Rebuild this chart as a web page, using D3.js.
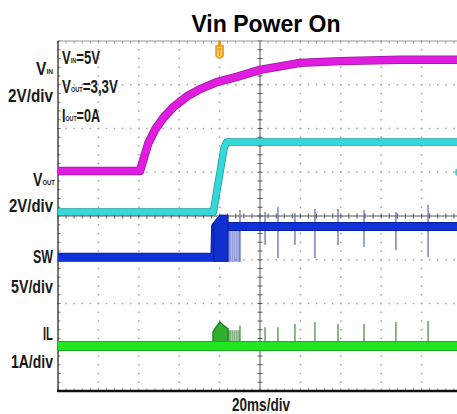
<!DOCTYPE html>
<html>
<head>
<meta charset="utf-8">
<script src="https://cdn.jsdelivr.net/npm/d3@7"></script>
<style>
body { margin: 0; background: #fff; }
</style>
</head>
<body>
<div id="graf"></div>
<script>
// -- Datos (tiempo en ms, 20ms/div; amplitud en divisiones)
vinT   = [-100, -59.4, -57.8, -55.3, -52.0, -47.9, -42.9, -36.3, -29.7, -21.4, -11.5, 0, 19.8, 39.6, 69.3, 100]
vinDiv = [1.03, 1.03, 1.28, 1.66, 1.97, 2.24, 2.49, 2.73, 2.90, 3.06, 3.18, 3.34, 3.50, 3.54, 3.57, 3.57]

voutT   = [-100, -23.1, -17.8, -16.5, 100]
voutDiv = [0.09, 0.09, 1.55, 1.69, 1.69]

swT   = [-100, -22.3, -22.0, 100]
swDiv = [-0.94, -0.94, -0.24, -0.24]
swRafagaT   = [-22.8, -22.8, -21.3, -19.8, -15.8, -15.8]
swRafagaDiv = [-1.05, -0.14, -0.05, 0.02, 0.02, -1.05]

ilT   = [-100, 100]
ilDiv = [-2.97, -2.97]
ilPicoT   = [-23.3, -23.3, -21.8, -19.8, -17.8, -15.8, -15.8]
ilPicoDiv = [-2.97, -2.65, -2.54, -2.42, -2.51, -2.58, -2.97]

// -- Peine de conmutacion justo despues del arranque
peineT = [-15.3, -14.4, -13.4, -12.4, -11.4, -10.4]
swPeineDiv = -1.05
ilPeineDiv = -2.61

// -- Picos aislados (pulsos de salto de ciclo)
picosT = [-9.9, 2.5, 8.9, 17.3, 27.2, 38.6, 51.5, 67.3, 83.2]
swPicoArriba = [0.14, 0.09, 0.21, 0.07, 0.16, 0.16, 0.14, 0.09, 0.25]
swPicoAbajo  = [-1.05, -0.66, -0.96, -0.66, -0.96, -0.66, -0.71, -0.78, -0.94]
ilPicoArriba = [-2.51, -2.54, -2.54, -2.47, -2.42, -2.47, -2.47, -2.42, -2.40]

triggerT = -20
marcaVoutDiv = 1.0

// -- Configuracion del canvas
ancho_total = 457
alto_total = 414

svg = d3.select('#graf').append('svg')
        .attr('width', ancho_total)
        .attr('height', alto_total)
        .style('display', 'block')

svg.append('rect').attr('width', ancho_total).attr('height', alto_total).attr('fill', '#fff')

// -- Escaladores (10 div horizontales, 8 verticales)
x = d3.scaleLinear().domain([-100, 100]).range([58, 462])
y = d3.scaleLinear().domain([-4, 4]).range([391, 41])

g = svg.append('g')

// -- Grid punteado
mayoresX = d3.range(-4, 5).filter(d => d != 0).map(d => d * 20)
mayoresY = d3.range(-3, 4).filter(d => d != 0)
menoresX = d3.range(-100, 100.01, 4)
menoresY = d3.range(-4, 4.01, 0.2)

mayoresX.forEach(mx => {
    g.selectAll(null).data(menoresY).enter().append('rect')
        .attr('x', x(mx) - 0.75).attr('y', d => y(d) - 0.75)
        .attr('width', 1.5).attr('height', 1.5)
        .attr('fill', '#a0a0a0')
})
mayoresY.forEach(my => {
    g.selectAll(null).data(menoresX).enter().append('rect')
        .attr('x', d => x(d) - 0.75).attr('y', y(my) - 0.75)
        .attr('width', 1.5).attr('height', 1.5)
        .attr('fill', '#a0a0a0')
})

// -- Cruz central con marcas
g.append('line').attr('x1', x(-100)).attr('x2', x(100)).attr('y1', y(0)).attr('y2', y(0))
    .attr('stroke', '#555').attr('stroke-width', 1)
g.append('line').attr('x1', x(0)).attr('x2', x(0)).attr('y1', y(4)).attr('y2', y(-4))
    .attr('stroke', '#555').attr('stroke-width', 1)
g.selectAll(null).data(menoresX).enter().append('line')
    .attr('x1', d => x(d)).attr('x2', d => x(d))
    .attr('y1', y(0) - 2.5).attr('y2', y(0) + 2.5)
    .attr('stroke', '#555')
g.selectAll(null).data(menoresY).enter().append('line')
    .attr('x1', x(0) - 2.5).attr('x2', x(0) + 2.5)
    .attr('y1', d => y(d)).attr('y2', d => y(d))
    .attr('stroke', '#555')

// -- Marco
g.append('line').attr('x1', x(-100)).attr('x2', x(100)).attr('y1', y(4)).attr('y2', y(4))
    .attr('stroke', '#999').attr('stroke-width', 1.2)
g.selectAll(null).data(menoresX).enter().append('line')
    .attr('x1', d => x(d)).attr('x2', d => x(d))
    .attr('y1', y(4)).attr('y2', y(4) + 2.5)
    .attr('stroke', '#999')
g.selectAll(null).data(menoresY).enter().append('line')
    .attr('x1', x(-100)).attr('x2', x(-100) + 2.5)
    .attr('y1', d => y(d)).attr('y2', d => y(d))
    .attr('stroke', '#777')
g.selectAll(null).data(menoresX).enter().append('line')
    .attr('x1', d => x(d)).attr('x2', d => x(d))
    .attr('y1', y(-4)).attr('y2', y(-4) - 2.5)
    .attr('stroke', '#777')
g.append('line').attr('x1', x(-100)).attr('x2', x(-100)).attr('y1', y(4)).attr('y2', y(-4))
    .attr('stroke', '#444').attr('stroke-width', 1.5)
g.append('line').attr('x1', x(-100) - 1).attr('x2', x(100)).attr('y1', y(-4)).attr('y2', y(-4))
    .attr('stroke', '#111').attr('stroke-width', 2.5)

// -- Trazas
linea = d3.line().x(d => x(d[0])).y(d => y(d[1]))
pares = (ts, vs) => ts.map((t, i) => [t, vs[i]])

function traza(datos, borde, color, grosor) {
    g.append('path').datum(datos).attr('d', linea)
        .attr('fill', 'none').attr('stroke', borde).attr('stroke-width', grosor + 1.5)
        .attr('stroke-linejoin', 'round')
    g.append('path').datum(datos).attr('d', linea)
        .attr('fill', 'none').attr('stroke', color).attr('stroke-width', grosor)
        .attr('stroke-linejoin', 'round')
}

// -- IL
g.selectAll(null).data(peineT).enter().append('line')
    .attr('x1', d => x(d)).attr('x2', d => x(d))
    .attr('y1', y(ilDiv[0])).attr('y2', y(ilPeineDiv))
    .attr('stroke', '#2f7f2f').attr('stroke-width', 1)
g.selectAll(null).data(picosT).enter().append('line')
    .attr('x1', d => x(d)).attr('x2', d => x(d))
    .attr('y1', y(ilDiv[0])).attr('y2', (d, i) => y(ilPicoArriba[i]))
    .attr('stroke', '#3a8a3a').attr('stroke-width', 1.2)
g.append('path').datum(pares(ilPicoT, ilPicoDiv)).attr('d', linea)
    .attr('fill', '#2fb02f').attr('stroke', '#137a13').attr('stroke-width', 1.2)
traza(pares(ilT, ilDiv), '#1a9a1a', '#22e622', 8.5)

// -- SW
g.selectAll(null).data(peineT).enter().append('line')
    .attr('x1', d => x(d)).attr('x2', d => x(d))
    .attr('y1', y(swDiv[3])).attr('y2', y(swPeineDiv))
    .attr('stroke', '#4058c0').attr('stroke-width', 1)
g.selectAll(null).data(picosT).enter().append('line')
    .attr('x1', d => x(d)).attr('x2', d => x(d))
    .attr('y1', (d, i) => y(swPicoArriba[i])).attr('y2', (d, i) => y(swPicoAbajo[i]))
    .attr('stroke', '#5566b0').attr('stroke-width', 1.2)
traza(pares(swT, swDiv), '#0a1a90', '#1030d8', 7.5)
g.append('path').datum(pares(swRafagaT, swRafagaDiv)).attr('d', linea)
    .attr('fill', '#1030d0').attr('stroke', '#0a1a90').attr('stroke-width', 1)

// -- Vout
traza(pares(voutT, voutDiv), '#1a9a9a', '#35d8d8', 6)

// -- Vin
traza(pares(vinT, vinDiv), '#9a1a9a', '#e01ce0', 7)

// -- Marcadores
g.append('circle').attr('cx', x(100) - 3).attr('cy', y(marcaVoutDiv)).attr('r', 4)
    .attr('fill', '#35d8d8')
mt = x(triggerT)
g.append('path')
    .attr('d', `M${mt - 3.5},${y(4) + 5} L${mt + 3.5},${y(4) + 5} L${mt + 3.5},${y(4) + 15} Q${mt},${y(4) + 19} ${mt - 3.5},${y(4) + 15} Z`)
    .attr('fill', '#fbd27a').attr('stroke', '#f0960f').attr('stroke-width', 1.6)
g.append('path')
    .attr('d', `M${mt - 2},${y(4) + 8} L${mt + 2},${y(4) + 8} M${mt},${y(4) + 8} L${mt},${y(4) + 15}`)
    .attr('fill', 'none').attr('stroke', '#f0960f').attr('stroke-width', 1.4)
g.append('path')
    .attr('d', `M${mt - 1.5},${y(4)} L${mt + 1.5},${y(4)} L${mt + 1.5},${y(4) + 5} L${mt - 1.5},${y(4) + 5} Z`)
    .attr('fill', '#f0960f')

// -- Textos
fuente = "'Liberation Sans', Arial, sans-serif"

svg.append('text')
    .attr('x', 266).attr('y', 32)
    .attr('text-anchor', 'middle')
    .attr('font-family', fuente).attr('font-weight', 'bold').attr('font-size', 23)
    .attr('fill', '#000')
    .text('Vin Power On')

// -- Etiqueta condensada: [texto principal, subindice, resto], x inicial, base, ancho final
function etiqueta(partes, x0, base, largo, tam) {
    t = svg.append('text')
        .attr('transform', `translate(${x0},${base})`)
        .attr('font-family', fuente).attr('font-weight', 'bold').attr('font-size', tam)
        .attr('fill', '#1a1a1a')
    t.append('tspan').text(partes[0])
    if (partes[1]) t.append('tspan').attr('font-size', tam * 0.42).attr('dy', -1).text(partes[1])
    if (partes[2]) t.append('tspan').attr('dy', 1).text(partes[2])
    // -- se comprime en horizontal para imitar la letra estrecha del osciloscopio
    natural = t.node().getComputedTextLength()
    t.attr('transform', `translate(${x0},${base}) scale(${largo / natural},1)`)
}

etiqueta(['V', 'IN'], 36, 75, 17, 18)
etiqueta(['2V/div'], 8, 102, 45, 18)
etiqueta(['V', 'OUT'], 33, 186, 22, 18)
etiqueta(['2V/div'], 9, 212, 44, 18)
etiqueta(['SW'], 33, 263, 20, 18)
etiqueta(['5V/div'], 11, 293, 42, 18)
etiqueta(['IL'], 43, 340, 10, 18)
etiqueta(['1A/div'], 11, 368, 42, 18)

etiqueta(['V', 'IN', '=5V'], 62, 64, 38, 19)
etiqueta(['V', 'OUT', '=3,3V'], 62, 93, 56, 19)
etiqueta(['I', 'OUT', '=0A'], 62, 122, 38, 19)

etiqueta(['20ms/div'], 232, 411, 58, 18)
</script>
</body>
</html>
